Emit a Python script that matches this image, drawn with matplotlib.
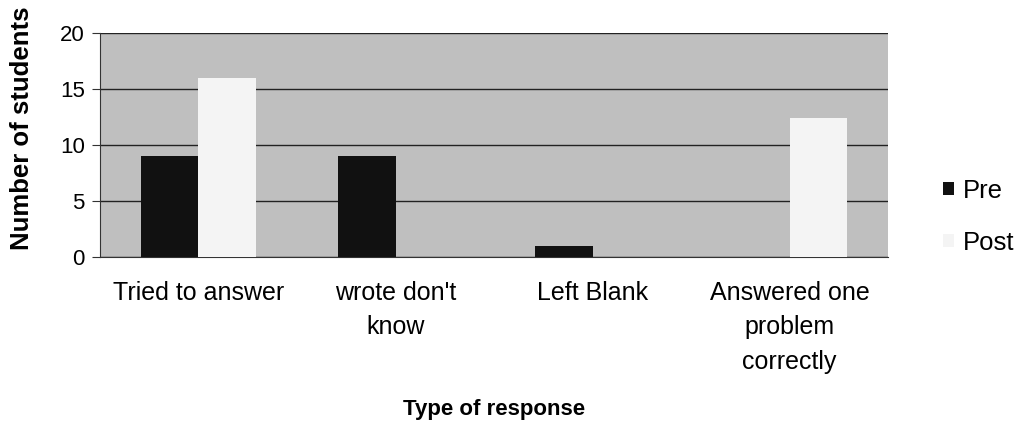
import numpy as np
import matplotlib.pyplot as plt

plt.rcParams['font.family'] = ['Liberation Sans', 'DejaVu Sans']

categories = ["Tried to answer", "wrote don't\nknow", "Left Blank",
              "Answered one\nproblem\ncorrectly"]
pre = [9, 9, 1, 0]
post = [16, 0, 0, 12.4]
yticks = [0, 5, 10, 15, 20]

fig = plt.figure(figsize=(10.17, 4.25), dpi=100)
ax = fig.add_axes([0.0983, 0.395, 0.775, 0.527])

x = np.arange(len(categories))
w = 0.29
ax.set_facecolor('#bfbfbf')
ax.bar(x - w / 2, pre, w, color='#111111', label='Pre', zorder=3)
ax.bar(x + w / 2, post, w, color='#f4f4f4', label='Post', zorder=3)

ax.set_xlim(-0.5, len(categories) - 0.5)
ax.set_ylim(0, 20)
ax.set_yticks(yticks)
ax.yaxis.grid(True, color='#222222', linewidth=1.0, zorder=1)
ax.set_axisbelow(True)

for s in ['top', 'right']:
    ax.spines[s].set_visible(False)
ax.spines['left'].set_color('#333333')
ax.spines['bottom'].set_color('#333333')

ax.set_xticks(x)
ax.set_xticklabels(categories, fontsize=18, linespacing=1.55, va='top')
ax.tick_params(axis='x', length=0, pad=17)
ax.tick_params(axis='y', labelsize=16, length=6, pad=5, color='#333333')

ax.set_ylabel('Number of students', fontsize=18.5, fontweight='bold')
ax.yaxis.set_label_coords(-0.084, 0.576)
ax.set_xlabel('Type of response', fontsize=16, fontweight='bold', labelpad=18)

leg = ax.legend(loc='center left', bbox_to_anchor=(1.04, 0.18), frameon=False,
                fontsize=18.5, handlelength=0.42, handleheight=0.42,
                handletextpad=0.35, labelspacing=1.1)

fig.savefig('out.png', dpi=100)
